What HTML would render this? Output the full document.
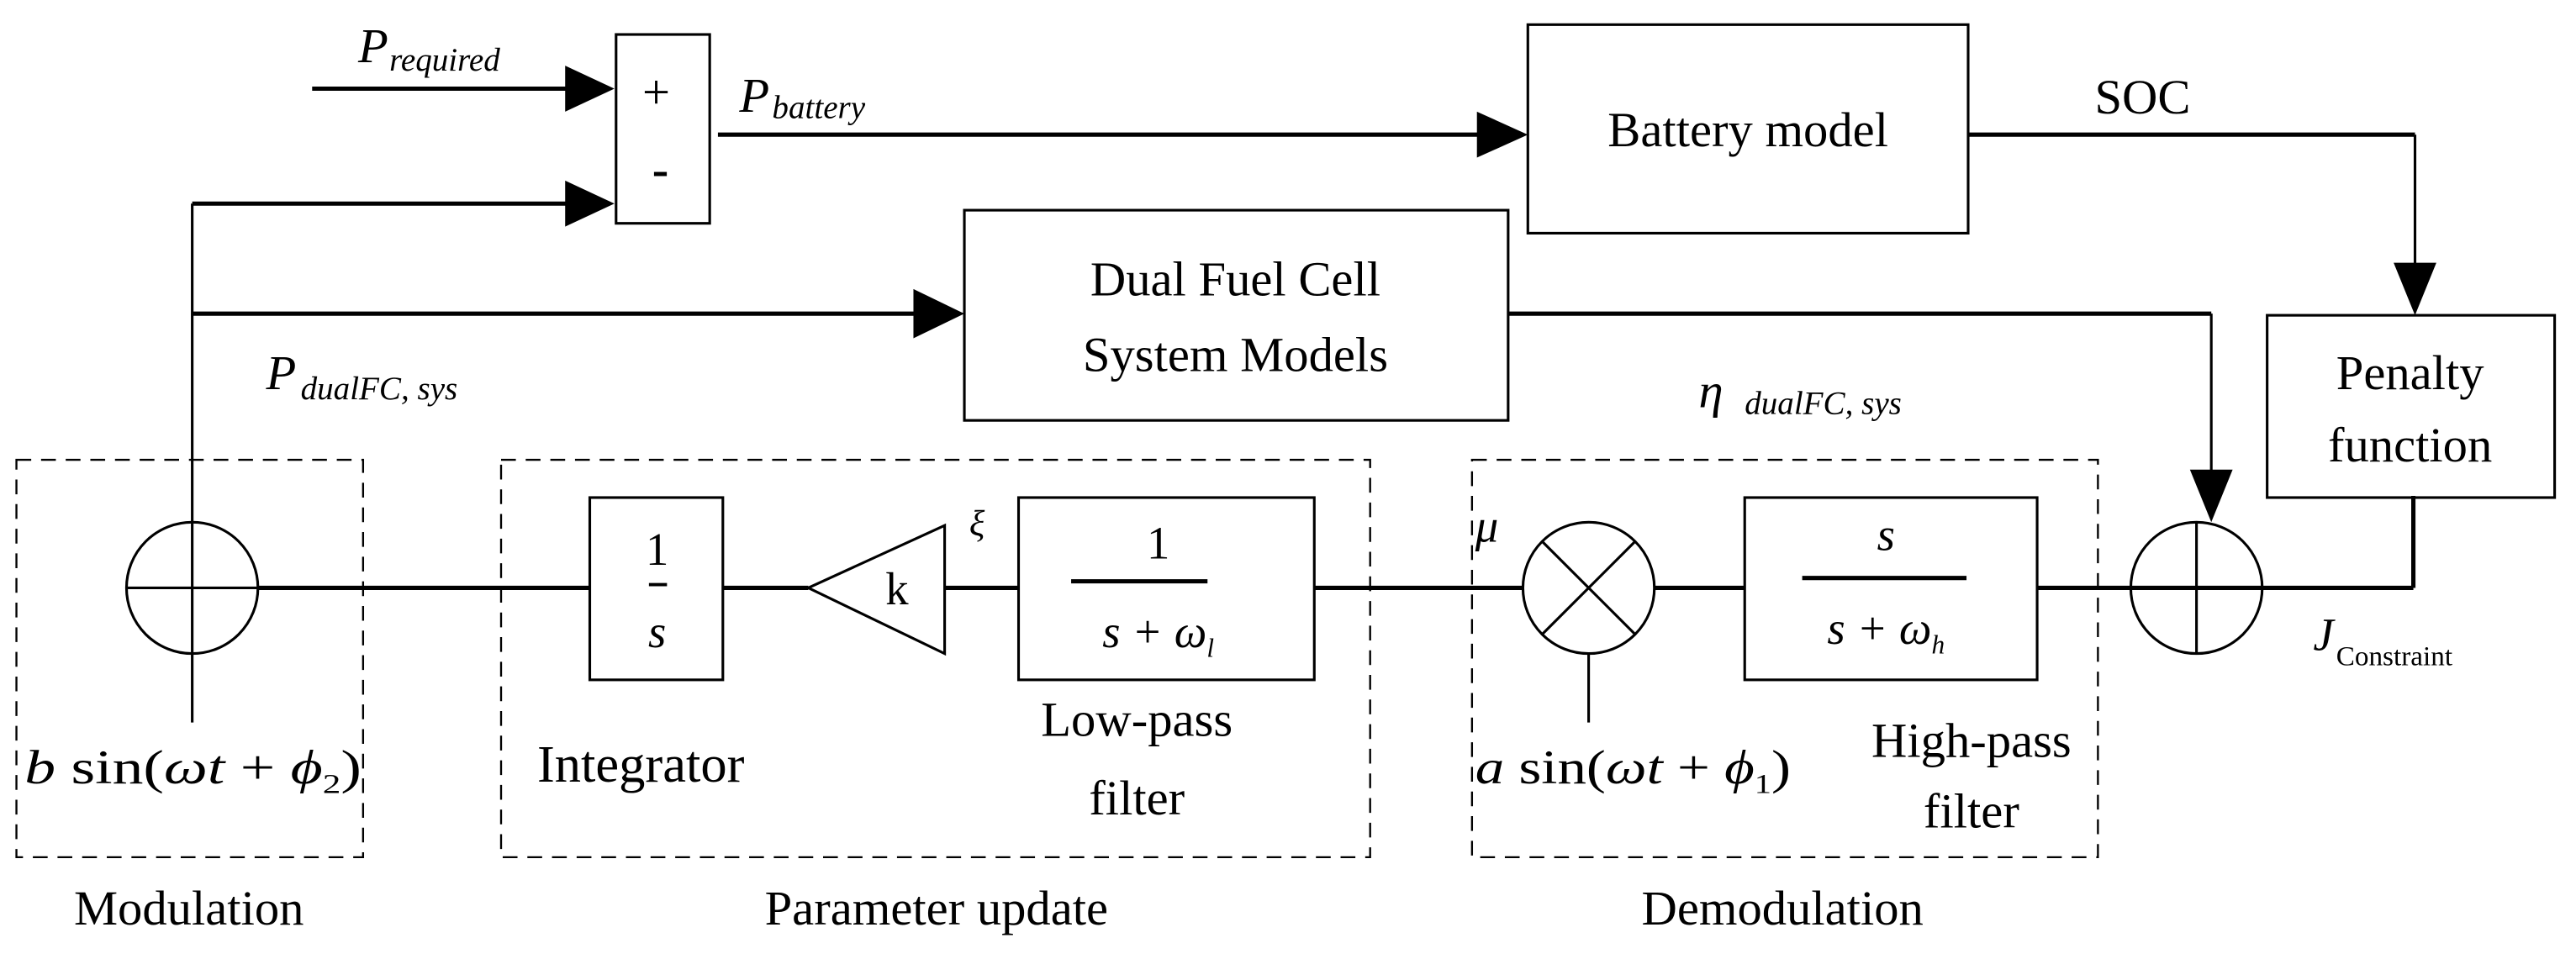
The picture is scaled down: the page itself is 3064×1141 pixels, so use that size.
<!DOCTYPE html>
<html><head><meta charset="utf-8"><style>
html,body{margin:0;padding:0;background:#fff;}
svg{display:block;}
text{font-family:"Liberation Serif",serif;fill:#000;}
.i{font-style:italic;}
</style></head><body>
<svg width="3064" height="1141" viewBox="0 0 1568 584" preserveAspectRatio="none" xmlns="http://www.w3.org/2000/svg">
<g fill="none" stroke="#000">
<g stroke-width="1.2" stroke-dasharray="9,6">
<rect x="10" y="280" width="211" height="242"/>
<rect x="305" y="280" width="529" height="242"/>
<rect x="896" y="280" width="381" height="242"/>
</g>
<g stroke-width="1.6">
<rect x="375" y="21" width="57" height="115"/>
<rect x="930" y="15" width="268" height="127"/>
<rect x="587" y="128" width="331" height="128"/>
<rect x="1380" y="192" width="175" height="111"/>
<rect x="359" y="303" width="81" height="111"/>
<rect x="620" y="303" width="180" height="111"/>
<rect x="1062" y="303" width="178" height="111"/>
<polygon points="492,358 575,320 575,398"/>
<circle cx="117" cy="358" r="40"/>
<circle cx="967" cy="358" r="40"/>
<circle cx="1337" cy="358" r="40"/>
<line x1="117" y1="124" x2="117" y2="440"/>
<line x1="77" y1="358" x2="157" y2="358"/>
<line x1="1337" y1="318" x2="1337" y2="398"/>
<line x1="939" y1="330" x2="995" y2="386"/>
<line x1="995" y1="330" x2="939" y2="386"/>
<line x1="967" y1="398" x2="967" y2="440"/>
<line x1="1470" y1="82" x2="1470" y2="170"/>
<line x1="1346" y1="191" x2="1346" y2="295"/>
<line x1="1469" y1="303" x2="1469" y2="358"/>
</g>
<g stroke-width="2.6">
<line x1="190" y1="54" x2="355" y2="54"/>
<line x1="117" y1="124" x2="355" y2="124"/>
<line x1="437" y1="82" x2="905" y2="82"/>
<line x1="1198" y1="82" x2="1470" y2="82"/>
<line x1="117" y1="191" x2="565" y2="191"/>
<line x1="918" y1="191" x2="1346" y2="191"/>
<line x1="157" y1="358" x2="359" y2="358"/>
<line x1="440" y1="358" x2="492" y2="358"/>
<line x1="575" y1="358" x2="620" y2="358"/>
<line x1="800" y1="358" x2="927" y2="358"/>
<line x1="1007" y1="358" x2="1062" y2="358"/>
<line x1="1240" y1="358" x2="1469" y2="358"/>
<line x1="1469" y1="358" x2="1469" y2="302"/>
<line x1="1376" y1="302" x2="1559" y2="302" stroke-width="0"/>
<line x1="395" y1="356" x2="406" y2="356" stroke-width="2"/>
<line x1="652" y1="354" x2="735" y2="354"/>
<line x1="1097" y1="352" x2="1197" y2="352"/>
</g>
</g>
<g fill="#000">
<polygon points="374,54 344,40 344,68"/>
<polygon points="374,124 344,110 344,138"/>
<polygon points="930,82 899,68 899,96"/>
<polygon points="587,191 556,176 556,206"/>
<polygon points="1470,192 1457,160 1483,160"/>
<polygon points="1346,318 1333,286 1359,286"/>
</g>
<text x="218" y="38" font-size="30" class="i">P</text>
<text x="237" y="43" font-size="20" class="i">required</text>
<text x="391" y="66" font-size="30">+</text>
<text x="397" y="113" font-size="30" font-weight="bold">-</text>
<text x="450" y="68" font-size="30" class="i">P</text>
<text x="470" y="72" font-size="20" class="i">battery</text>
<text x="1064" y="89" font-size="30" text-anchor="middle">Battery model</text>
<text x="1275" y="69" font-size="30">SOC</text>
<text x="752" y="180" font-size="30" text-anchor="middle">Dual Fuel Cell</text>
<text x="752" y="226" font-size="30" text-anchor="middle">System Models</text>
<text x="162" y="237" font-size="30" class="i">P</text>
<text x="183" y="243" font-size="20" class="i">dualFC, sys</text>
<text x="1034" y="248" font-size="30" class="i">η</text>
<text x="1062" y="252" font-size="20" class="i">dualFC, sys</text>
<text x="1467" y="237" font-size="30" text-anchor="middle">Penalty</text>
<text x="1467" y="281" font-size="30" text-anchor="middle">function</text>
<text x="400" y="344" font-size="28" text-anchor="middle">1</text>
<text x="400" y="394" font-size="28" class="i" text-anchor="middle">s</text>
<text x="546" y="368" font-size="28" text-anchor="middle">k</text>
<text x="590" y="326" font-size="22" class="i">ξ</text>
<text x="705" y="340" font-size="28" text-anchor="middle">1</text>
<text x="705" y="394" font-size="28" class="i" text-anchor="middle">s + ω<tspan font-size="16" dy="6">l</tspan></text>
<text x="1148" y="335" font-size="28" class="i" text-anchor="middle">s</text>
<text x="1148" y="392" font-size="28" class="i" text-anchor="middle">s + ω<tspan font-size="16" dy="6">h</tspan></text>
<text x="898" y="330" font-size="28" class="i">μ</text>
<text x="1408" y="396" font-size="28" class="i">J</text>
<text x="1422" y="405" font-size="17">Constraint</text>
<text x="15" y="477" font-size="29" textLength="205" lengthAdjust="spacingAndGlyphs"><tspan class="i">b</tspan> sin(<tspan class="i">ωt</tspan> + <tspan class="i">ϕ</tspan><tspan font-size="17" dy="6">2</tspan><tspan dy="-6">)</tspan></text>
<text x="898" y="477" font-size="29" textLength="192" lengthAdjust="spacingAndGlyphs"><tspan class="i">a</tspan> sin(<tspan class="i">ωt</tspan> + <tspan class="i">ϕ</tspan><tspan font-size="17" dy="6">1</tspan><tspan dy="-6">)</tspan></text>
<text x="327" y="476" font-size="32">Integrator</text>
<text x="692" y="448" font-size="30" text-anchor="middle">Low-pass</text>
<text x="692" y="496" font-size="30" text-anchor="middle">filter</text>
<text x="1200" y="461" font-size="30" text-anchor="middle">High-pass</text>
<text x="1200" y="504" font-size="30" text-anchor="middle">filter</text>
<text x="115" y="563" font-size="30" text-anchor="middle">Modulation</text>
<text x="570" y="563" font-size="30" text-anchor="middle">Parameter update</text>
<text x="1085" y="563" font-size="30" text-anchor="middle">Demodulation</text>
</svg>
</body></html>
